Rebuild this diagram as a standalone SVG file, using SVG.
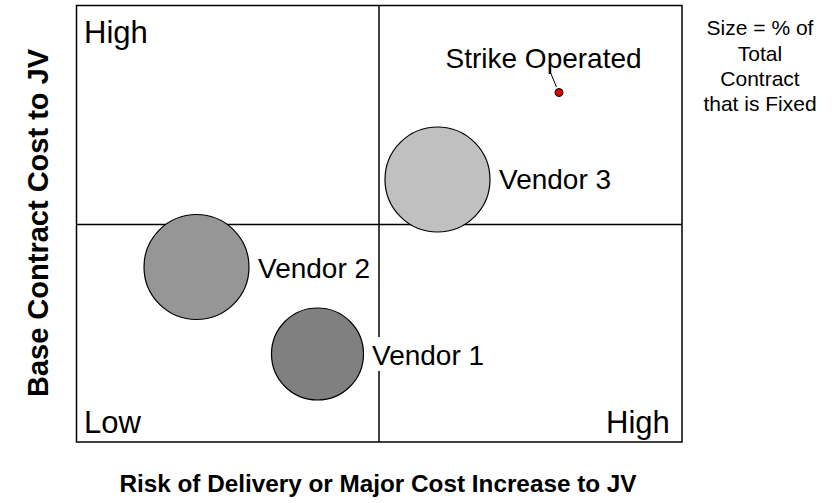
<svg xmlns="http://www.w3.org/2000/svg" width="835" height="503" viewBox="0 0 835 503">
  <style>
    .lbl { font-family: "Liberation Sans", Arial, sans-serif; font-size: 28px; fill: #000; }
    .corner { font-family: "Liberation Sans", Arial, sans-serif; font-size: 31px; fill: #000; }
    .legend { font-family: "Liberation Sans", Arial, sans-serif; font-size: 21px; fill: #000; text-anchor: middle; }
    .axis { font-family: "Liberation Sans", Arial, sans-serif; font-weight: bold; fill: #000; text-anchor: middle; }
    .bubble { stroke: #000; stroke-width: 1.2; }
    .frame { fill: #fff; stroke: #000; stroke-width: 1.5; }
    .divider { stroke: #000; stroke-width: 1.5; fill: none; }
  </style>

  <rect width="835" height="503" fill="#fff"/>

  <!-- plot frame and quadrant dividers -->
  <g id="frame">
    <rect class="frame" x="76.5" y="5.5" width="605.5" height="436.5"/>
    <line class="divider" x1="379" y1="5.5" x2="379" y2="442"/>
    <line class="divider" x1="76.5" y1="224.5" x2="682" y2="224.5"/>
  </g>

  <!-- corner scale labels -->
  <g id="scale-labels">
    <text class="corner" x="84" y="43">High</text>
    <text class="corner" x="84" y="433">Low</text>
    <text class="corner" x="606" y="433">High</text>
  </g>

  <!-- leader from label to the Strike Operated point -->
  <g id="connectors">
    <line x1="550" y1="71.5" x2="556.5" y2="87" stroke="#000" stroke-width="1"/>
  </g>

  <g id="vendor3">
    <circle class="bubble" cx="437.5" cy="179.5" r="52.5" fill="#c0c0c0"/>
    <text class="lbl" x="499" y="189">Vendor 3</text>
  </g>

  <g id="vendor2">
    <circle class="bubble" cx="196.5" cy="267" r="52.5" fill="#969696"/>
    <text class="lbl" x="258" y="278">Vendor 2</text>
  </g>

  <g id="vendor1">
    <circle class="bubble" cx="317.5" cy="354" r="46" fill="#808080"/>
    <rect x="371" y="337" width="116" height="34" fill="#fff"/>
    <text class="lbl" x="372" y="365">Vendor 1</text>
  </g>

  <g id="strike-operated">
    <circle cx="559" cy="92.5" r="4" fill="#e00000" stroke="#000" stroke-width="1"/>
    <text class="lbl" x="445.5" y="67.5">Strike Operated</text>
  </g>

  <!-- size legend -->
  <g id="legend">
    <text class="legend" x="760" y="35">Size = % of</text>
    <text class="legend" x="760" y="61">Total</text>
    <text class="legend" x="760" y="86">Contract</text>
    <text class="legend" x="760" y="111">that is Fixed</text>
  </g>

  <!-- axis titles -->
  <g id="axis-titles">
    <text class="axis" font-size="24.3" x="378" y="492">Risk of Delivery or Major Cost Increase to JV</text>
    <text class="axis" font-size="29" transform="translate(48 223) rotate(-90)">Base Contract Cost to JV</text>
  </g>
</svg>
